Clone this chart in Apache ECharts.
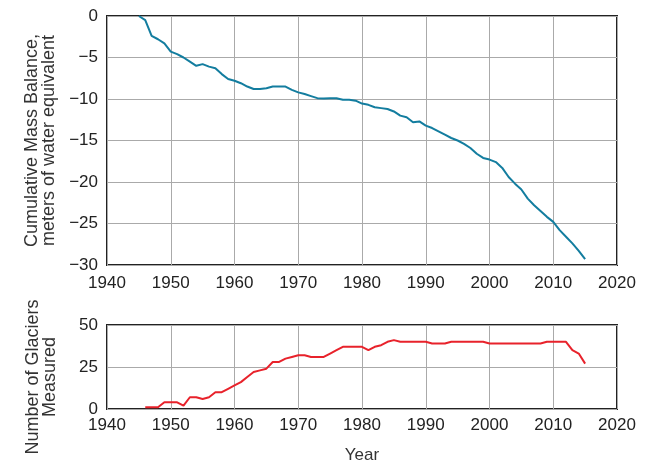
<!DOCTYPE html>
<html>
<head>
<meta charset="utf-8">
<script src="https://cdn.jsdelivr.net/npm/echarts@6/dist/echarts.min.js"></script>
<style>
html,body{margin:0;padding:0;background:#fff;}
#chart{width:650px;height:465px;}
</style>
</head>
<body>
<div id="chart"></div>
<script>
// Cumulative mass balance (meters of water equivalent), 1945-2015
const massYears = [1945,1946,1947,1948,1949,1950,1951,1952,1953,1954,1955,1956,1957,1958,1959,1960,1961,1962,1963,1964,1965,1966,1967,1968,1969,1970,1971,1972,1973,1974,1975,1976,1977,1978,1979,1980,1981,1982,1983,1984,1985,1986,1987,1988,1989,1990,1991,1992,1993,1994,1995,1996,1997,1998,1999,2000,2001,2002,2003,2004,2005,2006,2007,2008,2009,2010,2011,2012,2013,2014,2015];
const massValues = [0,-0.5,-2.4,-2.8,-3.3,-4.3,-4.6,-5.0,-5.5,-6.0,-5.8,-6.1,-6.3,-7.0,-7.6,-7.8,-8.1,-8.5,-8.8,-8.8,-8.7,-8.5,-8.5,-8.5,-8.9,-9.2,-9.4,-9.65,-9.9,-9.95,-9.9,-9.9,-10.1,-10.1,-10.2,-10.55,-10.7,-11.0,-11.1,-11.2,-11.5,-12.0,-12.2,-12.8,-12.7,-13.2,-13.5,-13.9,-14.3,-14.7,-15.0,-15.4,-15.9,-16.6,-17.1,-17.3,-17.6,-18.3,-19.4,-20.2,-20.9,-22.0,-22.8,-23.5,-24.2,-24.8,-25.8,-26.6,-27.4,-28.3,-29.3];
// Number of glaciers measured, 1946-2015
const countYears = [1946,1947,1948,1949,1950,1951,1952,1953,1954,1955,1956,1957,1958,1959,1960,1961,1962,1963,1964,1965,1966,1967,1968,1969,1970,1971,1972,1973,1974,1975,1976,1977,1978,1979,1980,1981,1982,1983,1984,1985,1986,1987,1988,1989,1990,1991,1992,1993,1994,1995,1996,1997,1998,1999,2000,2001,2002,2003,2004,2005,2006,2007,2008,2009,2010,2011,2012,2013,2014,2015];
const countValues = [1,1,1,4,4,4,2,7,7,6,7,10,10,12,14,16,19,22,23,24,28,28,30,31,32,32,31,31,31,33,35,37,37,37,37,35,37,38,40,41,40,40,40,40,40,39,39,39,40,40,40,40,40,40,39,39,39,39,39,39,39,39,39,40,40,40,40,35,33,27];
const massTicks = {min:-30, max:0, interval:5};
const countTicks = {min:0, max:50, interval:25};
const yearTicks = {min:1940, max:2020, interval:10};

const massData = massYears.map((y,i)=>[y,massValues[i]]);
const countData = countYears.map((y,i)=>[y,countValues[i]]);

const FONT = 'Liberation Sans, Arial, sans-serif';
const labelStyle = {fontSize:17, color:'#222', fontFamily:FONT};
const nameStyle = {fontSize:18, color:'#333', fontFamily:FONT, lineHeight:17};
const gridLine = {show:true, lineStyle:{color:'#aaaaaa', width:1}};

const chart = echarts.init(document.getElementById('chart'), null, {renderer:'canvas'});
chart.setOption({
  animation:false,
  backgroundColor:'#fff',
  grid:[
    {left:107, top:16, width:510, height:249, show:true, borderColor:'#222', borderWidth:2, backgroundColor:'transparent', containLabel:false},
    {left:107, top:325, width:510, height:84, show:true, borderColor:'#222', borderWidth:2, backgroundColor:'transparent', containLabel:false}
  ],
  xAxis:[
    {gridIndex:0, type:'value', min:yearTicks.min, max:yearTicks.max, interval:yearTicks.interval,
     axisLine:{show:false}, axisTick:{show:false}, splitLine:gridLine,
     axisLabel:Object.assign({margin:10, formatter:v=>String(v)}, labelStyle)},
    {gridIndex:1, type:'value', min:yearTicks.min, max:yearTicks.max, interval:yearTicks.interval,
     axisLine:{show:false}, axisTick:{show:false}, splitLine:gridLine,
     axisLabel:Object.assign({margin:8, formatter:v=>String(v)}, labelStyle),
     name:'Year', nameLocation:'middle', nameGap:38,
     nameTextStyle:{fontSize:17, color:'#333', fontFamily:FONT}}
  ],
  yAxis:[
    {gridIndex:0, type:'value', min:massTicks.min, max:massTicks.max, interval:massTicks.interval,
     axisLine:{show:false}, axisTick:{show:false}, splitLine:gridLine,
     axisLabel:Object.assign({margin:9, formatter:v=>String(v).replace('-','\u2212')}, labelStyle),
     name:'Cumulative Mass Balance,\nmeters of water equivalent', nameLocation:'middle', nameGap:48,
     nameTextStyle:nameStyle},
    {gridIndex:1, type:'value', min:countTicks.min, max:countTicks.max, interval:countTicks.interval,
     axisLine:{show:false}, axisTick:{show:false}, splitLine:gridLine,
     axisLabel:Object.assign({margin:9}, labelStyle),
     name:'Number of Glaciers\nMeasured', nameLocation:'middle', nameGap:48,
     nameTextStyle:Object.assign({padding:[0,20,0,0]}, nameStyle)}
  ],
  series:[
    {type:'line', xAxisIndex:0, yAxisIndex:0, data:massData, showSymbol:false,
     lineStyle:{color:'#137d9f', width:2}, z:5},
    {type:'line', xAxisIndex:1, yAxisIndex:1, data:countData, showSymbol:false,
     lineStyle:{color:'#e8222b', width:2}, z:5}
  ]
});
</script>
</body>
</html>
